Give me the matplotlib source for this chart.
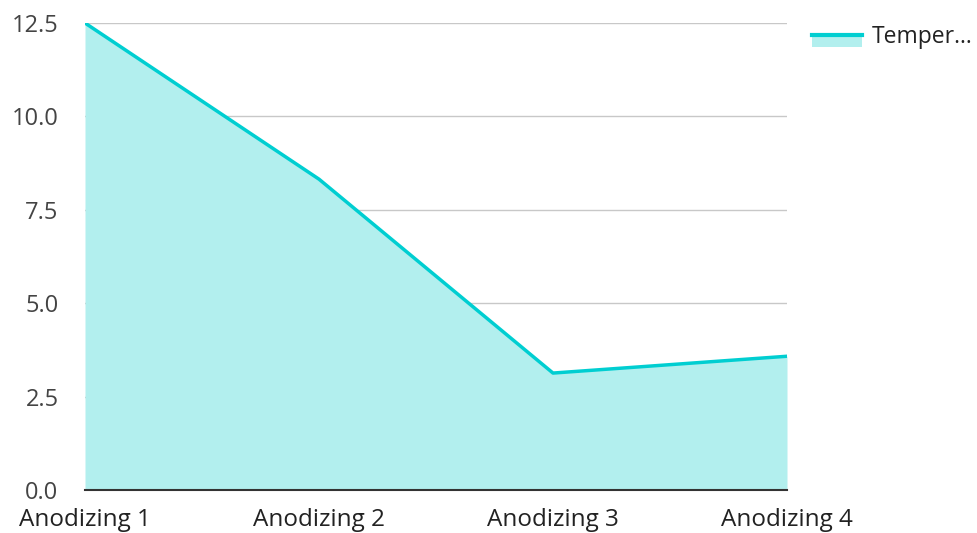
import matplotlib
matplotlib.use("Agg")
import matplotlib.pyplot as plt
from matplotlib.lines import Line2D
from matplotlib.patches import Rectangle

plt.rcParams["font.family"] = ["Open Sans", "DejaVu Sans"]

categories = ["Anodizing 1", "Anodizing 2", "Anodizing 3", "Anodizing 4"]
temperature = [12.5, 8.32, 3.13, 3.58]
series_label = "Temper..."

line_color = "#00CED1"
fill_color = "#B2EFEE"


class AreaHandler:
    # legend key: line at mid-height with the fill hanging below it
    def legend_artist(self, legend, orig_handle, fontsize, handlebox):
        x0, y0 = handlebox.xdescent, handlebox.ydescent
        w, h = handlebox.width, handlebox.height
        yc = y0 + h / 2
        rect = Rectangle((x0, yc - 8.6), w, 8.6, facecolor=fill_color,
                         edgecolor="none", transform=handlebox.get_transform())
        line = Line2D([x0, x0 + w], [yc, yc], color=line_color, linewidth=3,
                      transform=handlebox.get_transform())
        handlebox.add_artist(rect)
        handlebox.add_artist(line)
        return rect


fig = plt.figure(figsize=(9.77, 5.33), dpi=100)
ax = fig.add_axes([85 / 977, 43 / 533, 702 / 977, 467 / 533])

x = range(len(categories))
ax.fill_between(x, temperature, 0, color=fill_color, linewidth=0, zorder=2)
area_line, = ax.plot(x, temperature, color=line_color, linewidth=2.5, zorder=3)

ax.set_xlim(0, len(categories) - 1)
ax.set_ylim(0, 12.5)
ax.set_yticks([0, 2.5, 5, 7.5, 10, 12.5])
ax.set_yticklabels(["0.0", "2.5", "5.0", "7.5", "10.0", "12.5"])
ax.set_xticks(list(x))
ax.set_xticklabels(categories)

ax.grid(axis="y", color="#c8c8c8", linewidth=1, zorder=1)
ax.set_axisbelow(True)
for side in ["top", "right", "left"]:
    ax.spines[side].set_visible(False)
ax.spines["bottom"].set_color("#333333")
ax.spines["bottom"].set_linewidth(1.5)
ax.spines["bottom"].set_zorder(4)
ax.tick_params(axis="both", length=0, labelsize=17, colors="#444444")
ax.tick_params(axis="y", pad=19)
ax.tick_params(axis="x", pad=13, labelsize=17.5, labelcolor="#222222")

fig.legend([area_line], [series_label], loc="upper left",
           handler_map={area_line: AreaHandler()},
           bbox_to_anchor=(812 / 977, 1 - 25 / 533), frameon=False,
           borderaxespad=0, borderpad=0,
           fontsize=16.5, handlelength=2.18, handleheight=0.7,
           handletextpad=0.43, labelcolor="#222222")

fig.savefig("out.png", dpi=100)
